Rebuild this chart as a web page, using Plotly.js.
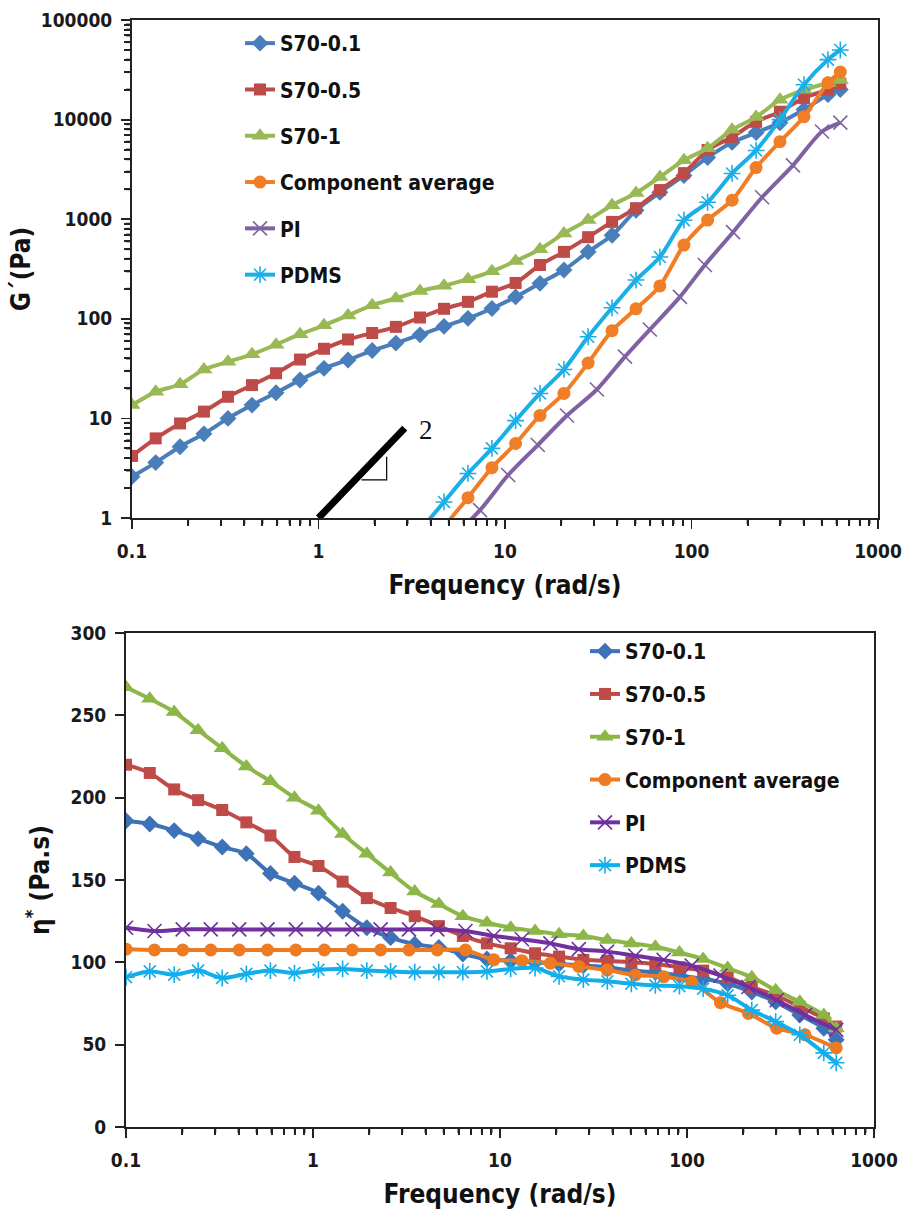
<!DOCTYPE html>
<html>
<head>
<meta charset="utf-8">
<script src="https://cdn.plot.ly/plotly-3.0.1.min.js"></script>
<style>
html,body{margin:0;padding:0;background:#ffffff;}
#chart{width:904px;height:1215px;}
</style>
</head>
<body>
<div id="chart"></div>
<script>
// ---------------- DATA ----------------
// Frequency grids (rad/s)
const freqA = [0.1, 0.134, 0.181, 0.243, 0.327, 0.44, 0.592, 0.796, 1.07, 1.44, 1.94, 2.6, 3.5, 4.71, 6.33, 8.51, 11.4, 15.4, 20.7, 27.9, 37.5, 50.4, 67.7, 91.1, 122, 165, 222, 298, 401, 539, 628];
const freqB = [0.1, 0.142, 0.201, 0.284, 0.403, 0.571, 0.809, 1.15, 1.62, 2.3, 3.26, 4.62, 6.54, 9.27, 13.1, 18.6, 26.4, 37.4, 52.9, 75, 106, 151, 213, 302, 428, 628];
const freqPITop = [5.2, 7.35, 10.4, 15, 21.5, 31.1, 44, 59.8, 86.7, 118, 167, 239, 350, 501, 628];

const seriesNames = ['S70-0.1', 'S70-0.5', 'S70-1', 'Component average', 'PI', 'PDMS'];

// Top panel: G' (Pa)
const gS70_01 = [2.6, 3.6, 5.2, 7.0, 10, 13.6, 18.1, 24.3, 31.8, 38.6, 48, 57, 69, 84, 101, 127, 166, 227, 309, 470, 690, 1230, 1860, 2750, 4170, 5900, 7400, 9300, 12600, 17800, 20000];
const gS70_05 = [4.2, 6.3, 8.9, 11.7, 16.5, 21.6, 28.4, 39, 50, 62, 72, 83, 103, 126, 148, 187, 229, 347, 470, 660, 940, 1290, 1960, 2900, 4950, 6700, 9500, 12000, 16500, 20000, 23000];
const gS70_1 = [13.6, 18.5, 22, 31, 37, 44, 55, 70, 86, 108, 137, 160, 190, 215, 250, 300, 380, 500, 720, 980, 1380, 1830, 2650, 3900, 5150, 7900, 10600, 15800, 19900, 23300, 25000];
const gCompAvg = [null, null, null, null, null, null, null, null, null, null, null, null, null, 0.82, 1.6, 3.2, 5.6, 10.7, 17.8, 36, 76, 126, 214, 550, 980, 1550, 3300, 6000, 10700, 23400, 30000];
const gPI = [0.63, 1.2, 2.7, 5.4, 10.7, 19.5, 41.7, 78, 166, 347, 741, 1660, 3470, 7590, 9330];
const gPDMS = [null, null, null, null, null, null, null, null, null, null, null, null, 0.75, 1.45, 2.8, 5.0, 9.5, 17.8, 31, 66, 129, 245, 417, 977, 1480, 2880, 4900, 10000, 22400, 40000, 50000];

// Slope-2 guide in the top panel
const slopeFreq = [1, 2.9];
const slopeG = [1, 8.0];
const triFreq = [1.70, 2.32, 2.32];
const triG = [2.41, 2.41, 4.13];

// Bottom panel: eta* (Pa.s)
const eS70_01 = [186, 184, 180, 175, 170, 166, 154, 148, 142, 131, 121, 115, 111, 109, 105, 102, 101, 100, 99, 98, 97, 95, 94, 92, 90, 87, 82, 76, 68, 60, 53];
const eS70_05 = [220, 215, 205, 198.5, 192.5, 185, 177, 164, 158.5, 149, 139, 133, 128, 122, 116, 111.5, 108.5, 105.5, 103.5, 101.5, 101, 100, 99, 97, 95, 91, 85, 80, 73, 66, 61];
const eS70_1 = [267, 260, 252, 241, 230, 219, 210, 200, 192, 178, 166, 154.5, 143, 135.5, 128, 124, 121, 119, 117, 116, 113.5, 111.5, 109.5, 106, 102, 96.5, 91, 83, 76, 68, 60];
const eCompAvg = [108, 107.5, 107.5, 107.5, 107.5, 107.5, 107.5, 107.5, 107.5, 107.5, 107.5, 107.5, 107.5, 101.5, 101, 99.5, 97.5, 95.3, 92.3, 91.3, 88, 75.5, 69, 60, 56, 48];
const ePI = [121, 119, 120, 120, 120, 120, 120, 120, 120, 120, 120, 120, 119, 116, 114, 111.5, 108, 106.5, 104, 101.5, 98, 92, 85, 77, 68, 59];
const ePDMS = [91, 94.5, 92.5, 95, 90.5, 93, 95, 93.5, 95.5, 96, 95, 94.5, 94, 94, 94, 94.5, 96, 96.5, 91.5, 89.5, 88.5, 87, 86, 85.5, 84, 80, 71, 64, 56, 45, 39];

// Tick labels and minor tick positions
const freqTickVals = [0.1, 1, 10, 100, 1000];
const freqTickText = ['0.1', '1', '10', '100', '1000'];
const freqMinorTicks = [0.2, 0.3, 0.4, 0.5, 0.6, 0.7, 0.8, 0.9, 2, 3, 4, 5, 6, 7, 8, 9, 20, 30, 40, 50, 60, 70, 80, 90, 200, 300, 400, 500, 600, 700, 800, 900];
const gTickVals = [1, 10, 100, 1000, 10000, 100000];
const gTickText = ['1', '10', '100', '1000', '10000', '100000'];
const gMinorTicks = [2, 3, 4, 5, 6, 7, 8, 9, 20, 30, 40, 50, 60, 70, 80, 90, 200, 300, 400, 500, 600, 700, 800, 900, 2000, 3000, 4000, 5000, 6000, 7000, 8000, 9000, 20000, 30000, 40000, 50000, 60000, 70000, 80000, 90000];
const etaTickVals = [0, 50, 100, 150, 200, 250, 300];
const etaTickText = ['0', '50', '100', '150', '200', '250', '300'];

// ---------------- STYLE ----------------
const W = 904, H = 1215;
const FAM = 'DejaVu Sans Condensed, DejaVu Sans, sans-serif';
const TICKFONT = {family: FAM, size: 19, weight: 'bold', color: '#1a1a1a'};
const TITLEFONT = {family: FAM, size: 26, weight: 'bold', color: '#111111'};
const LEGFONT = {family: FAM, size: 21, weight: 'bold', color: '#111111'};
const AXC = '#222222';

const topStyles = [
  {color: '#4A7EBB', symbol: 'diamond', size: 13},
  {color: '#BE4B48', symbol: 'square', size: 12},
  {color: '#98B954', symbol: 'triangle-up', size: 15},
  {color: '#F07E26', symbol: 'circle', size: 13},
  {color: '#7F62A1', symbol: 'x-thin-open', size: 14},
  {color: '#1AAFE6', symbol: 'asterisk-open', size: 14}
];
const botStyles = [
  {color: '#3D72B8', symbol: 'diamond', size: 13},
  {color: '#BE4B48', symbol: 'square', size: 12},
  {color: '#8DB648', symbol: 'triangle-up', size: 15},
  {color: '#EE7A22', symbol: 'circle', size: 13},
  {color: '#7030A0', symbol: 'x-thin-open', size: 14},
  {color: '#12AEEB', symbol: 'asterisk-open', size: 14}
];

function makeTrace(x, y, idx, styles, xa, ya, leg, grp) {
  const s = styles[idx];
  const open = s.symbol.indexOf('open') >= 0;
  return {
    type: 'scatter', mode: 'lines+markers',
    x: x, y: y, name: seriesNames[idx],
    xaxis: xa, yaxis: ya, legend: leg, legendgroup: grp + idx,
    connectgaps: false,
    line: {color: s.color, width: 4, shape: 'spline', smoothing: 0.8},
    marker: {symbol: s.symbol, size: s.size, color: s.color,
             line: {color: s.color, width: open ? 1.6 : 0}}
  };
}

const traces = [
  makeTrace(freqA, gS70_01, 0, topStyles, 'x', 'y', 'legend', 't'),
  makeTrace(freqA, gS70_05, 1, topStyles, 'x', 'y', 'legend', 't'),
  makeTrace(freqA, gS70_1, 2, topStyles, 'x', 'y', 'legend', 't'),
  makeTrace(freqA, gCompAvg, 3, topStyles, 'x', 'y', 'legend', 't'),
  makeTrace(freqPITop, gPI, 4, topStyles, 'x', 'y', 'legend', 't'),
  makeTrace(freqA, gPDMS, 5, topStyles, 'x', 'y', 'legend', 't'),
  {type: 'scatter', mode: 'lines', x: slopeFreq, y: slopeG, xaxis: 'x', yaxis: 'y', showlegend: false,
   line: {color: '#000000', width: 7}, hoverinfo: 'skip'},
  {type: 'scatter', mode: 'lines', x: triFreq, y: triG, xaxis: 'x', yaxis: 'y', showlegend: false,
   line: {color: '#000000', width: 1.2}, hoverinfo: 'skip'},
  makeTrace(freqA, eS70_01, 0, botStyles, 'x2', 'y2', 'legend2', 'b'),
  makeTrace(freqA, eS70_05, 1, botStyles, 'x2', 'y2', 'legend2', 'b'),
  makeTrace(freqA, eS70_1, 2, botStyles, 'x2', 'y2', 'legend2', 'b'),
  makeTrace(freqB, eCompAvg, 3, botStyles, 'x2', 'y2', 'legend2', 'b'),
  makeTrace(freqB, ePI, 4, botStyles, 'x2', 'y2', 'legend2', 'b'),
  makeTrace(freqA, ePDMS, 5, botStyles, 'x2', 'y2', 'legend2', 'b')
];

// plot-area geometry (pixels)
const TOPX = [132, 878], BOTX = [126, 874];
const TOP_B = 518, TOP_T = 20, BOT_B = 1127, BOT_T = 633;
const MINOR_LEN = 6;

function minorSpec(vals) {
  return {ticks: 'outside', ticklen: MINOR_LEN, tickwidth: 2, tickcolor: AXC, tickvals: vals};
}

function logX(domPx, anchor) {
  return {
    type: 'log', range: [-1, 3], domain: [domPx[0] / W, domPx[1] / W], anchor: anchor,
    tickmode: 'array', tickvals: freqTickVals, ticktext: freqTickText,
    ticks: 'outside', ticklen: 9, tickwidth: 1.8, tickcolor: AXC,
    minor: minorSpec(freqMinorTicks),
    showline: true, linecolor: AXC, linewidth: 2, mirror: true,
    showgrid: false, zeroline: false, automargin: false,
    tickfont: TICKFONT, ticklabelstandoff: 6,
    title: {text: 'Frequency (rad/s)', font: TITLEFONT, standoff: 15}
  };
}

// redundant minor tick marks as shapes, built from the minor-tick arrays
const shapes = [];
freqMinorTicks.forEach(function(v) {
  shapes.push({type: 'line', xref: 'x', yref: 'paper', x0: v, x1: v,
    y0: 1 - TOP_B / H, y1: 1 - (TOP_B + MINOR_LEN) / H, line: {color: AXC, width: 2}});
  shapes.push({type: 'line', xref: 'x2', yref: 'paper', x0: v, x1: v,
    y0: 1 - BOT_B / H, y1: 1 - (BOT_B + MINOR_LEN) / H, line: {color: AXC, width: 2}});
});
gMinorTicks.forEach(function(v) {
  shapes.push({type: 'line', xref: 'paper', yref: 'y', x0: TOPX[0] / W, x1: (TOPX[0] - MINOR_LEN) / W,
    y0: v, y1: v, line: {color: AXC, width: 2}});
});

const layout = {
  width: W, height: H,
  margin: {l: 0, r: 0, t: 0, b: 0},
  paper_bgcolor: '#ffffff', plot_bgcolor: '#ffffff',
  showlegend: true,
  xaxis: logX(TOPX, 'y'),
  yaxis: {
    type: 'log', range: [0, 5], domain: [1 - TOP_B / H, 1 - TOP_T / H], anchor: 'x',
    tickmode: 'array', tickvals: gTickVals, ticktext: gTickText,
    ticks: 'outside', ticklen: 9, tickwidth: 1.8, tickcolor: AXC,
    minor: minorSpec(gMinorTicks),
    showline: true, linecolor: AXC, linewidth: 2, mirror: true,
    showgrid: false, zeroline: false, automargin: false,
    tickfont: TICKFONT, ticklabelstandoff: 5,
    title: {text: 'G´(Pa)', font: TITLEFONT, standoff: 3}
  },
  xaxis2: logX(BOTX, 'y2'),
  yaxis2: {
    type: 'linear', range: [0, 300], domain: [1 - BOT_B / H, 1 - BOT_T / H], anchor: 'x2',
    tickmode: 'array', tickvals: etaTickVals, ticktext: etaTickText,
    ticks: 'outside', ticklen: 9, tickwidth: 1.8, tickcolor: AXC,
    showline: true, linecolor: AXC, linewidth: 2, mirror: true,
    showgrid: false, zeroline: false, automargin: false,
    tickfont: TICKFONT, ticklabelstandoff: 5,
    title: {text: 'η<sup>*</sup> (Pa.s)', font: TITLEFONT, standoff: 13}
  },
  legend: {
    x: 240 / W, y: 1 - 23 / H, xanchor: 'left', yanchor: 'top',
    bgcolor: 'rgba(255,255,255,0)', borderwidth: 0,
    font: LEGFONT, traceorder: 'grouped', tracegroupgap: 16, itemwidth: 30
  },
  legend2: {
    x: 585 / W, y: 1 - 631 / H, xanchor: 'left', yanchor: 'top',
    bgcolor: 'rgba(255,255,255,0)', borderwidth: 0,
    font: LEGFONT, traceorder: 'grouped', tracegroupgap: 12.5, itemwidth: 30
  },
  shapes: shapes,
  annotations: [
    {text: '2', xref: 'paper', yref: 'paper', x: 426 / W, y: 1 - 430 / H,
     xanchor: 'center', yanchor: 'middle', showarrow: false,
     font: {family: 'Liberation Serif, Times New Roman, serif', size: 27, color: '#111111'}}
  ]
};

Plotly.newPlot('chart', traces, layout, {displayModeBar: false, staticPlot: true});
</script>
</body>
</html>
